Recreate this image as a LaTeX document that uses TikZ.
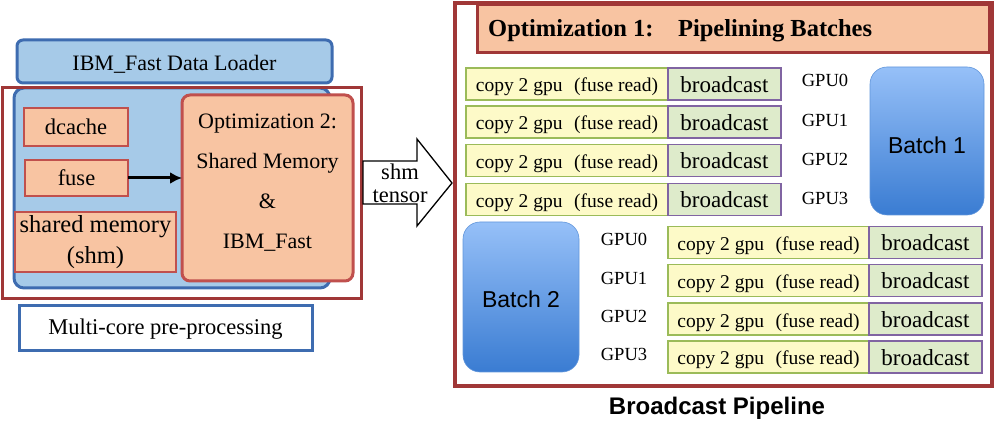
\documentclass[tikz,border=0pt]{standalone}
\usepackage{fontspec}
\setmainfont{Liberation Serif}
\newfontfamily\hsans{Liberation Sans}
\usetikzlibrary{arrows.meta}
\definecolor{bfill}{RGB}{166,202,232}
\definecolor{bline}{RGB}{62,108,176}
\definecolor{salmon}{RGB}{248,196,162}
\definecolor{sline}{RGB}{192,80,77}
\definecolor{dred}{RGB}{160,55,55}
\definecolor{yfill}{RGB}{253,250,200}
\definecolor{yline}{RGB}{155,187,89}
\definecolor{gfill}{RGB}{222,235,203}
\definecolor{gline}{RGB}{128,100,162}
\definecolor{btop}{RGB}{150,192,248}
\definecolor{bbot}{RGB}{58,124,210}
\newcommand{\fs}[2]{\fontsize{#1}{#2}\selectfont}
\tikzset{
  box/.style={rectangle, inner sep=0pt, outer sep=0pt},
  smallbox/.style={box, fill=salmon, draw=sline, line width=1.5pt, font=\fs{22.5}{26}, text height=22pt, text depth=6pt},
  copybox/.style={box, fill=yfill, draw=yline, line width=1.5pt, minimum height=32pt, font=\fs{19.5}{22}, text height=20pt, text depth=4pt},
  bcbox/.style={box, fill=gfill, draw=gline, line width=1.2pt, minimum height=32pt, font=\fs{23}{24}, text height=21pt, text depth=4pt},
  gpulbl/.style={inner sep=0pt, font=\fs{18.5}{22}},
  batchbox/.style={box, rounded corners=17pt, top color=btop, bottom color=bbot, draw=bbot!80!white, line width=0.6pt, font=\hsans\fs{23}{26}},
}
\begin{document}
\begin{tikzpicture}[x=1pt,y=-1pt]
\useasboundingbox (0,0) rectangle (997,422);
% ---------- left part ----------
\node[box, fill=bfill, draw=bline, line width=3pt, rounded corners=6pt, minimum width=315pt, minimum height=43pt, font=\fs{22}{26}, text height=22pt, text depth=4pt] (loader) at (174.5,61.5) {IBM\_Fast Data Loader};
\node[box, fill=bfill, draw=bline, line width=3pt, rounded corners=10pt, minimum width=316pt, minimum height=200pt] (body) at (172,188) {};
\node[box, draw=dred, line width=3pt, minimum width=359pt, minimum height=211pt] (redL) at (181.5,193.5) {};
\node[smallbox, minimum width=104pt, minimum height=38pt] (dcache) at (76,127) {dcache};
\node[smallbox, minimum width=103pt, minimum height=36pt] (fuse) at (76.5,178) {fuse};
\node[smallbox, minimum width=161pt, minimum height=60pt, align=center, font=\fs{24.5}{31}, text height=, text depth=] (shm) at (95.5,242) {shared memory\\(shm)};
\node[box, fill=salmon, draw=sline, line width=3pt, rounded corners=8pt, minimum width=171pt, minimum height=186pt] (opt2) at (267.5,188) {};
\node[inner sep=0pt, align=center, font=\fs{22}{40}] (opt2txt) at (267.5,182.5) {Optimization 2:\\Shared Memory\\\&\\IBM\_Fast};
\draw[line width=3pt, -{Latex[length=12pt,width=12pt]}] (fuse.east) -- (fuse.east -| opt2.west);
\node[box, fill=white, draw=bline, line width=3pt, minimum width=293pt, minimum height=45pt, font=\fs{22.5}{26}, text height=20pt, text depth=7pt] (multi) at (165.5,328.5) {Multi-core pre-processing};
% hollow arrow
\draw[line width=1.3pt, fill=white] (363,161) -- (417,161) -- (417,139) -- (452,183) -- (417,226) -- (417,204) -- (363,204) -- cycle;
\node[inner sep=0pt, align=center, font=\fs{22.5}{23}] (shmt) at (400,183) {shm\\tensor};
% ---------- right part ----------
\node[box, draw=dred, line width=3.5pt, minimum width=537pt, minimum height=383pt] (redR) at (723.5,194.5) {};
\node[box, fill=salmon, draw=dred, line width=3pt, minimum width=512pt, minimum height=48pt] (title) at (733,29) {};
\node[inner sep=0pt, anchor=base west, font=\bfseries\fs{24.5}{28}] (titletxt) at (488,37) {Optimization 1:\hspace{1em}Pipelining Batches};
% top rows
\foreach \i/\y/\gy in {0/84/80,1/122/120,2/160.5/159,3/199.5/198}{
  \node[copybox, minimum width=202pt] (tc\i) at (567,\y) {copy 2 gpu\hspace{0.6em}(fuse read)};
  \node[bcbox, minimum width=113pt] (tb\i) at (724.5,\y) {broadcast};
  \node[gpulbl] (tg\i) at (825,\gy) {GPU\i};
}
\node[batchbox, minimum width=114pt, minimum height=148pt] (batch1) at (927,141) {\raisebox{-13pt}[8pt][8pt]{Batch 1}};
% bottom rows
\node[batchbox, minimum width=116pt, minimum height=150pt] (batch2) at (521,297) {\raisebox{-11pt}[8pt][8pt]{Batch 2}};
\foreach \i/\y/\gy in {0/242.5/239,1/280.5/278,2/319/316,3/357/354}{
  \node[copybox, minimum width=201pt] (bc\i) at (768.5,\y) {copy 2 gpu\hspace{0.6em}(fuse read)};
  \node[bcbox, minimum width=113pt] (bb\i) at (925.5,\y) {broadcast};
  \node[gpulbl] (bg\i) at (624,\gy) {GPU\i};
}
\node[inner sep=0pt, font=\hsans\bfseries\fs{24}{28}] (caption) at (717,408) {Broadcast Pipeline};
\end{tikzpicture}
\end{document}
